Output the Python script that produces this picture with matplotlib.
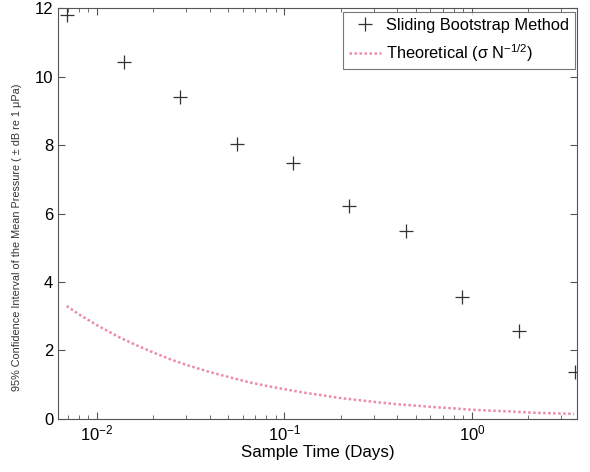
import numpy as np
import matplotlib
matplotlib.use("Agg")
import matplotlib.pyplot as plt

plt.rcParams['font.family'] = ['Liberation Sans', 'DejaVu Sans']
plt.rcParams['mathtext.fontset'] = 'custom'
plt.rcParams['mathtext.rm'] = 'Liberation Sans'
plt.rcParams['mathtext.it'] = 'Liberation Sans'

# Sliding bootstrap estimates (sample time in days, CI in dB)
boot_days = [0.00694, 0.0139, 0.0278, 0.0556, 0.111, 0.222, 0.444, 0.889, 1.78, 3.56]
boot_ci = [11.8, 10.42, 9.40, 8.03, 7.47, 6.22, 5.48, 3.56, 2.58, 1.37]

# Theoretical curve
theo_days = [0.0069, 0.008, 0.01, 0.013, 0.016, 0.02, 0.025, 0.03, 0.04, 0.05, 0.065,
             0.08, 0.1, 0.13, 0.16, 0.2, 0.25, 0.3, 0.4, 0.5, 0.65, 0.8, 1.0, 1.3,
             1.6, 2.0, 2.5, 3.0, 3.5]
theo_ci = [3.30, 3.06, 2.74, 2.40, 2.17, 1.94, 1.73, 1.58, 1.37, 1.23, 1.07,
           0.97, 0.87, 0.76, 0.69, 0.61, 0.55, 0.50, 0.43, 0.39, 0.34, 0.31, 0.27, 0.24,
           0.22, 0.19, 0.17, 0.16, 0.15]

fig = plt.figure(figsize=(5.90, 4.72), dpi=100)
ax = fig.add_axes([0.0983, 0.1123, 0.8797, 0.8707])

ax.plot(boot_days, boot_ci, linestyle='none', marker='+', markersize=10,
        markeredgewidth=0.9, color='#333333', label='Sliding Bootstrap Method')
ax.plot(theo_days, theo_ci, linestyle=(0, (1, 1)), linewidth=1.8, color='#ec8ca4',
        label='Theoretical (\u03c3 N$^{-1/2}$)')

ax.set_xscale('log')
ax.set_xlim(0.0062, 3.63)
ax.set_ylim(0, 12)
ax.set_yticks([0, 2, 4, 6, 8, 10, 12])

ax.tick_params(which='both', direction='in', top=True, right=True, colors='#555555',
               labelcolor='black', labelsize=12)
ax.tick_params(which='major', length=5)
ax.tick_params(which='minor', length=3)
for s in ax.spines.values():
    s.set_color('#555555')

ax.set_xlabel('Sample Time (Days)', fontsize=12.2, labelpad=1)
ax.set_ylabel('95% Confidence Interval of the Mean Pressure ( \u00b1 dB re 1 \u03bcPa)',
              fontsize=7.8, color='#333333')
ax.yaxis.set_label_coords(-0.07, 0.443)

leg = ax.legend(loc='upper right', bbox_to_anchor=(0.996, 0.99), borderaxespad=0,
                fontsize=11.8, frameon=True, fancybox=False, edgecolor='#555555',
                handlelength=2.0, handletextpad=0.3, borderpad=0.35, labelspacing=0.55)
leg.get_frame().set_linewidth(0.8)

plt.savefig('out.png', dpi=100)
plt.close()
